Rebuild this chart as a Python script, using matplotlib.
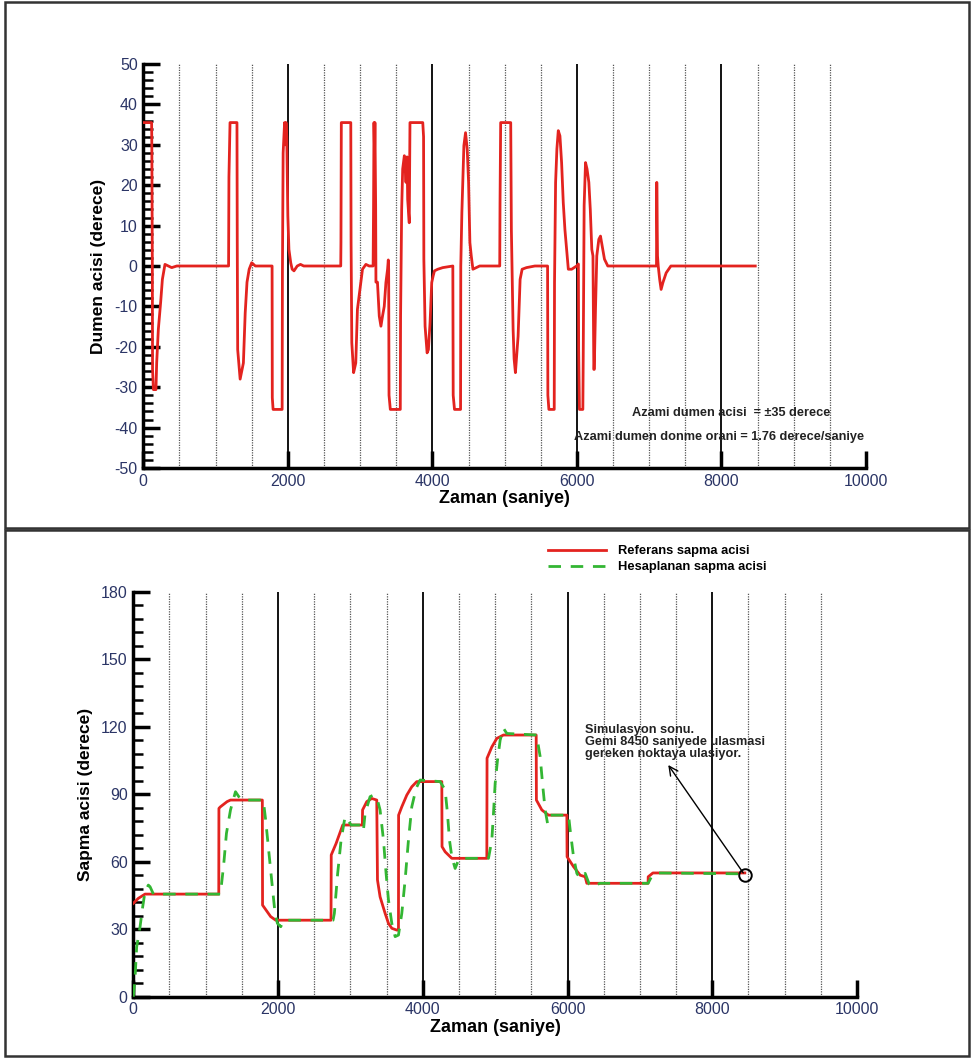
import numpy as np
import matplotlib
matplotlib.use('Agg')
import matplotlib.pyplot as plt
from matplotlib.patches import Rectangle
from matplotlib.ticker import MultipleLocator

plt.rcParams['font.family'] = ['Liberation Sans', 'DejaVu Sans']
plt.rcParams['axes.unicode_minus'] = False

# --- top: rudder angle (dumen acisi) ---
t_rud = [0, 115, 118, 125, 128, 140, 175, 185, 208, 240, 264, 300, 347, 393, 463,
         1180, 1185, 1200, 1296, 1300, 1306, 1340, 1385, 1410, 1435, 1465, 1500, 1550,
         1782, 1785, 1796, 1921, 1925, 1935, 1955, 1965, 1975, 1985, 2000, 2015, 2040,
         2060, 2085, 2130, 2175, 2220,
         2732, 2735, 2740, 2871, 2875, 2885, 2910, 2940, 2963, 3010, 3033, 3080, 3125,
         3180, 3186, 3192, 3200, 3205, 3215, 3219, 3240, 3265, 3288, 3310, 3334, 3357,
         3380, 3390, 3395, 3400, 3418, 3556, 3560, 3575, 3589, 3612, 3635, 3650, 3658,
         3680, 3690, 3867, 3878, 3882, 3899, 3927, 3945, 3968, 3991, 4010, 4029, 4075,
         4144, 4283, 4288, 4306, 4390, 4393, 4408, 4436, 4459, 4482, 4501, 4519, 4538,
         4561, 4607, 4654,
         4932, 4936, 4945, 5084, 5093, 5117, 5131, 5149, 5186, 5214, 5242, 5302, 5418,
         5594, 5598, 5612, 5686, 5690, 5705, 5723, 5742, 5765, 5788, 5811, 5834, 5857,
         5881, 5927, 5996, 6020, 6024, 6035, 6082, 6087, 6100, 6119, 6140, 6165, 6185,
         6206, 6222, 6234, 6240, 6257, 6275, 6303, 6326, 6349, 6381, 6427,
         7101, 7105, 7115, 7125, 7145, 7165, 7190, 7235, 7300, 8468]
d_rud = [35.5, 35.5, 29.8, 0, -25.6, -30.6, -30.6, -24, -15.7, -9, -3.3, 0.4, 0, -0.4, 0,
         0, 22, 35.5, 35.5, 6, -20.7, -28, -24, -11.6, -4, -0.8, 0.8, 0,
         0, -32.6, -35.5, -35.5, -1.7, 28, 35.5, 30, 35.5, 32, 12.4, 4.1, 0.8,
         -0.8, -1.2, 0, 0.4, 0,
         0, 5.8, 35.5, 35.5, 5.8, -19, -26.4, -24, -10.7, -4.1, -0.8, 0.4, 0,
         0, 15, 35.5, 28, 35.5, 15, -4, -4, -12.4, -14.9, -12.4, -10, -4.1,
         -0.8, 1.5, -0.8, -32, -35.5, -35.5, -12.4, 14, 24, 27.3, 20.7, 27, 16.5,
         10.7, 35.5, 35.5, 32, 1.7, -14.9, -21.5, -20.7, -14, -4.1, -2.5, -1.2, -0.8,
         -0.4, 0, -32, -35.5, -35.5, 0, 13.2, 29.8, 33, 28.9, 20.7, 5.8, 2.5,
         -0.8, -0.4, 0,
         0, 15.7, 35.5, 35.5, 9, -15.7, -23, -26.4, -17.4, -3.3, -0.8, -0.4, 0,
         0, -32, -35.5, -35.5, -4.1, 20.7, 29, 33.5, 32.2, 25.6, 15.7, 9, 4.1,
         -0.8, -0.8, 0, 0.5, -20.7, -35.5, -35.5, -23, 15, 25.6, 24, 20.7, 14,
         4.1, 2.5, -25.6, -25.6, -10.7, 2.5, 6.6, 7.4, 5, 1.7, 0,
         0, 20.7, 2.5, 0, -3.3, -5.8, -4.1, -1.7, 0, 0]

# --- bottom: heading angle (sapma acisi) ---
t_ref = [0, 69, 162, 1181, 1183, 1204, 1296, 1343, 1783, 1786, 1898, 1968, 2732, 2735,
         2801, 2894, 3165, 3168, 3226, 3295, 3364, 3374, 3410, 3480, 3526, 3572, 3641,
         3664, 3666, 3710, 3779, 3848, 3917, 4263, 4266, 4309, 4401, 4885, 4888, 4954,
         5023, 5115, 5567, 5570, 5645, 5737, 5991, 5994, 6083, 6175, 6244, 6267, 7113,
         7115, 7180, 8450]
y_ref = [41.5, 43.7, 45.6, 45.6, 83.7, 84.4, 86.7, 87.4, 87.4, 40.7, 35.6, 34, 34, 63,
         68, 76.3, 76.3, 83, 86.7, 88.1, 87.4, 51.9, 44.4, 37, 32.6, 30.4, 29.6,
         29.6, 80.7, 84.4, 89.6, 93.3, 95.6, 95.6, 66.7, 64.4, 61.5, 61.5, 106, 111,
         114.8, 116.3, 116.3, 87.4, 83, 80.7, 80.7, 62.2, 57.8, 54, 53.3, 50.4, 50.4,
         53.3, 55, 55]

t_calc = [0, 23, 46, 93, 130, 162, 208, 231, 278, 1204, 1250, 1287, 1343, 1412, 1458,
          1505, 1796, 1829, 1875, 1921, 1954, 1991, 2037, 2083, 2760, 2778, 2824, 2871,
          2926, 2963, 3010, 3160, 3180, 3203, 3272, 3318, 3374, 3410, 3457, 3493, 3526,
          3572, 3618, 3664, 3710, 3756, 3802, 3848, 3908, 3963, 4240, 4309, 4341, 4369,
          4401, 4447, 4493, 4516, 4908, 4954, 4977, 5000, 5032, 5069, 5115, 5161, 5572,
          5622, 5659, 5691, 5724, 5760, 6014, 6037, 6083, 6129, 6175, 6244, 6300, 6354,
          6446, 7113, 7160, 7228, 8450]
y_calc = [0, 7.4, 22, 31, 40, 46.7, 49.6, 48.9, 45.6, 45.6, 59, 72.6, 83, 91.1, 88.9,
          87.4, 87.4, 78.5, 63.7, 48.9, 38.5, 32.6, 31.1, 34, 34, 37, 54.8, 69.6,
          80, 78.5, 76.3, 76.3, 74, 81.5, 88.9, 89.6, 87.4, 83, 69.6, 54.8, 43,
          32.6, 26.7, 27.4, 37, 51.9, 69.6, 84.4, 92.6, 96.3, 95.6, 91.9, 81.5, 69.6,
          62.2, 57, 60.7, 61.5, 61.5, 69.6, 81.5, 94.8, 105, 114, 119.3, 117, 116.3,
          106.7, 93.3, 83, 77, 80.7, 80.7, 74, 62.2, 54.8, 52.6, 54.8, 50, 48.9,
          50.4, 50.4, 53.3, 55, 54.6]

end_t, end_y = 8450, 54

RED = '#e3231f'
GREEN = '#33b633'
TICKC = '#2b3566'

fig = plt.figure(figsize=(9.73, 10.58), dpi=100)

# panel frames
for y0, h in [(1 - 528 / 1058, 526 / 1058), (2 / 1058, 526 / 1058)]:
    fig.add_artist(Rectangle((5 / 973, y0), 964 / 973, h, transform=fig.transFigure,
                             fill=False, edgecolor='#333333', linewidth=1.8))


def style_axes(ax, ymin, ymax, ymaj, ymin_step):
    ax.set_xlim(0, 10000)
    ax.set_ylim(ymin, ymax)
    for s in ['top', 'right']:
        ax.spines[s].set_visible(False)
    for s in ['left', 'bottom']:
        ax.spines[s].set_linewidth(2.5)
    ax.set_xticks(np.arange(0, 10001, 2000))
    ax.set_yticks(np.arange(ymin, ymax + 1, ymaj))
    ax.yaxis.set_minor_locator(MultipleLocator(ymin_step))
    ax.tick_params(which='major', direction='in', length=12, width=2.5,
                   labelsize=11.5, labelcolor=TICKC, pad=4)
    ax.tick_params(which='minor', direction='in', length=7, width=1.8)
    for xv in np.arange(500, 10000, 500):
        if xv % 2000 == 0:
            ax.axvline(xv, color='black', lw=1.3, zorder=1)
        else:
            ax.axvline(xv, color='#555555', lw=0.9, ls=(0, (1, 1)), zorder=1)


ax1 = fig.add_axes([143.3 / 973, 1 - 468 / 1058, 722.7 / 973, 404 / 1058])
style_axes(ax1, -50, 50, 10, 2)
ax1.plot(t_rud, d_rud, color=RED, lw=2, zorder=3)
ax1.set_xlabel('Zaman (saniye)', fontsize=13, fontweight='bold', labelpad=1)
ax1.set_ylabel('Dumen acisi (derece)', fontsize=12.5, fontweight='bold', labelpad=6)
ax1.text(8130, -36.3, 'Azami dumen acisi  = \u00b135 derece', ha='center', va='center',
         fontsize=9.2, fontweight='bold', color='#222222')
ax1.text(7965, -42.3, 'Azami dumen donme orani = 1.76 derece/saniye', ha='center',
         va='center', fontsize=9.2, fontweight='bold', color='#222222')

ax2 = fig.add_axes([133.3 / 973, 1 - 996.7 / 1058, 723.7 / 973, 405 / 1058])
style_axes(ax2, 0, 180, 30, 6)
ax2.plot(t_ref, y_ref, color=RED, lw=2, zorder=3, label='Referans sapma acisi')
ax2.plot(t_calc, y_calc, color=GREEN, lw=2, ls=(0, (4.5, 3.5)), zorder=4,
         label='Hesaplanan sapma acisi')
ax2.plot([end_t], [end_y], 'o', mfc='none', mec='black', mew=1.4, ms=9, zorder=5)
ax2.annotate('', xy=(7370, 104), xytext=(end_t, end_y),
             arrowprops=dict(arrowstyle='->', color='black', lw=1, mutation_scale=16))
ax2.text(6240, 121, 'Simulasyon sonu.\nGemi 8450 saniyede ulasmasi\ngereken noktaya ulasiyor.',
         ha='left', va='top', fontsize=9.2, fontweight='bold', color='#222222', linespacing=1.0)
ax2.set_xlabel('Zaman (saniye)', fontsize=13, fontweight='bold', labelpad=1)
ax2.set_ylabel('Sapma acisi (derece)', fontsize=12.5, fontweight='bold', labelpad=6)

fig.legend(loc='upper left', bbox_to_anchor=(543 / 973, 1 - 540 / 1058), frameon=False,
           handlelength=4.5, handletextpad=0.9, prop={'weight': 'bold', 'size': 9.3},
           labelspacing=0.3, borderaxespad=0)

fig.savefig('out.png', dpi=100)
